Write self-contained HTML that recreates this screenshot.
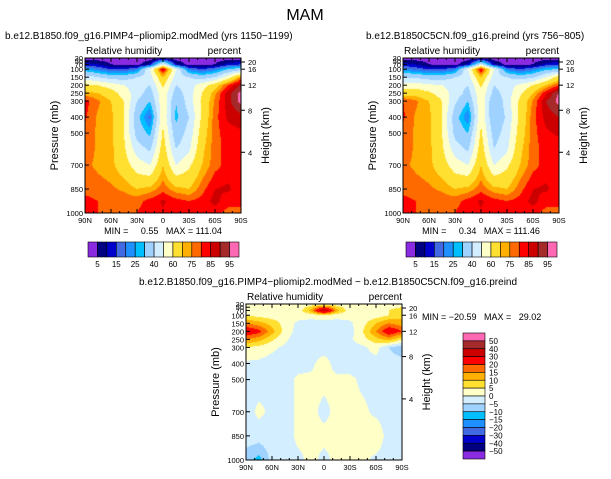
<!DOCTYPE html>
<html><head><meta charset="utf-8">
<style>
body{margin:0;background:#fff;}
#wrap{position:relative;width:611px;height:479px;overflow:hidden;font-family:"Liberation Sans",sans-serif;}
canvas{position:absolute;}
svg{position:absolute;left:0;top:0;}
svg text{white-space:pre;}
</style></head>
<body>
<div id="wrap">
<canvas id="c1"></canvas>
<canvas id="c2"></canvas>
<canvas id="c3"></canvas>
<svg id="s" width="611" height="479"></svg>
</div>
<script>
// ---- data ----
const lats = [90,75,60,45,30,15,0,-15,-30,-45,-60,-75,-90];
const presTop = [30,70,100,150,200,250,300,400,500,600,700,850,925,1000];
const rhPlio = [
 [2,2,2,2,2,2,2,2,2,2,2,2,2],
 [12,10,5,3,3,10,50,10,3,3,5,12,15],
 [25,20,15,15,20,50,88,50,20,15,20,30,35],
 [45,40,35,35,40,45,70,45,40,35,40,55,75],
 [62,60,55,50,45,40,62,40,45,55,65,80,92],
 [72,70,65,55,45,35,58,35,45,60,74,88,97],
 [82,76,70,60,40,30,58,30,45,62,76,88,97],
 [81,74,72,60,33,18,58,28,40,62,78,86,88],
 [78,74,72,60,36,28,62,33,44,65,78,83,84],
 [78,74,72,62,45,38,66,40,48,68,78,82,82],
 [76,74,72,65,55,50,70,50,58,70,78,82,82],
 [78,77,76,74,70,72,78,72,70,78,85,86,82],
 [82,80,79,78,78,82,86,82,80,82,87,82,82],
 [83,80,78,78,80,84,84,84,82,82,82,78,78]];
const rhPre = [
 [2,2,2,2,2,2,2,2,2,2,2,2,2],
 [12,10,5,3,3,10,45,10,3,3,5,12,15],
 [22,18,15,15,20,50,86,50,20,15,20,28,30],
 [40,38,35,35,40,45,70,45,40,35,38,50,65],
 [55,55,52,50,45,40,62,40,45,52,60,70,80],
 [66,66,62,55,46,36,58,36,45,58,70,84,96],
 [80,76,70,60,42,30,58,30,45,62,76,90,97],
 [81,74,72,60,34,20,58,30,42,63,78,87,90],
 [78,74,72,60,37,30,62,35,45,65,78,84,86],
 [78,74,72,62,45,38,66,40,48,68,78,82,82],
 [76,74,72,65,55,50,70,50,58,70,78,82,82],
 [78,77,76,74,70,72,78,72,70,78,85,86,82],
 [82,80,79,78,78,82,86,82,80,82,87,82,82],
 [83,80,78,78,80,84,84,84,82,82,82,78,78]];
const presDiff = [30,70,100,150,200,250,300,400,500,700,850,1000];
const rhDiff = [
 [2,2,2,2,2,2,2,2,2,2,2,2,2],
 [3,2,2,2,2,12,38,12,2,2,2,5,8],
 [5,3,2,2,2,2,3,2,2,2,2,5,8],
 [15,12,8,3,-1,-2,-2,-2,-1,3,10,15,12],
 [26,22,12,3,-2,-3,-3,-3,-2,5,15,26,20],
 [15,12,6,1,-3,-2,-2,-2,-1,3,8,12,5],
 [5,3,1,-1,-2,-2,-2,-2,-2,-1,2,-5,-8],
 [-1,-1,-2,-2,-2,-1,2,-2,-2,-2,-2,-3,-3],
 [-2,-2,-2,-2,1,1,1,1,1,-1,-2,-2,-3],
 [-2,1,-1,-2,1,1,-1,1,1,1,-1,-2,-5],
 [-2,-2,-2,-2,1,1,1,1,1,1,3,-2,-5],
 [-8,-12,-3,-2,-1,1,-1,1,1,1,-1,-2,-5]];
const levelsRH = [5,10,15,20,25,30,40,50,60,70,75,80,85,90,95];
const levelsDiff = [-50,-40,-30,-20,-15,-10,-5,0,5,10,15,20,30,40,50];
const palette = ["#8a2be2","#000080","#0000cd","#4169e1","#1e90ff","#00bfff","#a0d2ff","#d2eeff","#ffffc8","#ffe030","#ffb000","#ff6a00","#ff0000","#cd0000","#a52a2a","#ff69b4"];
const latTicks = ["90N","60N","30N","0","30S","60S","90S"];
const presTicks = [30,50,70,100,150,200,250,300,400,500,700,850,1000];
const presTickLabels = ["30","50","70","100","150","200","250","300","400","500","700","850","1000"];
const hgtTicks = [[20,55],[16,100],[12,200],[8,357],[4,620]];
const cbLabelsRH = ["5","15","25","40","60","75","85","95"];
const cbLabelsDiff = ["50","40","30","20","15","10","5","0","\u22125","\u221210","\u221215","\u221220","\u221230","\u221240","\u221250"];

// ---- helpers ----
function interp(grid, pres, lat, p){
  let fi=(90-lat)/15; let i=Math.min(Math.floor(fi),lats.length-2); let ti=fi-i;
  let j=0; while(j<pres.length-2 && p>pres[j+1]) j++;
  let tj=(p-pres[j])/(pres[j+1]-pres[j]); tj=Math.max(0,Math.min(1,tj));
  const a=grid[j][i]*(1-ti)+grid[j][i+1]*ti, b=grid[j+1][i]*(1-ti)+grid[j+1][i+1]*ti;
  return a*(1-tj)+b*tj;
}
function colorIdx(v,levels){let k=0;while(k<levels.length&&v>=levels[k])k++;return k;}
function drawField(id,P,grid,pres,levels){
  const c=document.getElementById(id); c.width=P.w; c.height=P.h;
  c.style.left=P.x+'px'; c.style.top=P.y+'px';
  const ctx=c.getContext('2d');
  for(let x=0;x<P.w;x++){ const lat=90-(x+0.5)/P.w*180;
    for(let y=0;y<P.h;y++){ const p=30+(y+0.5)/P.h*970;
      ctx.fillStyle=palette[colorIdx(interp(grid,pres,lat,p),levels)]; ctx.fillRect(x,y,1,1);}}
}
const S=document.getElementById('s'); const NS="http://www.w3.org/2000/svg";
function el(tag,attrs,txt){const e=document.createElementNS(NS,tag);for(const k in attrs)e.setAttribute(k,attrs[k]);if(txt!==undefined)e.textContent=txt;S.appendChild(e);return e;}
function text(x,y,s,size,anchor,name){const t=el('text',{x:x,y:y,'font-size':size,'text-anchor':anchor||'start','font-family':'Liberation Sans, sans-serif'},s);
 
 return t;}
function axes(P,tag){
  const yOf=p=>P.y+(p-30)/970*P.h;
  const r=el('rect',{x:P.x,y:P.y,width:P.w,height:P.h,fill:'none',stroke:'#000','stroke-width':1});
  
  
  latTicks.forEach((l,i)=>{const x=P.x+i*P.w/6;
    el('line',{x1:x,y1:P.y+P.h,x2:x,y2:P.y+P.h-4,stroke:'#000'});el('line',{x1:x,y1:P.y,x2:x,y2:P.y+4,stroke:'#000'});
    text(x,P.y+P.h+10,l,7.5,'middle',tag+'-x-tick-label');});
  for(let i=0;i<18;i++){const x=P.x+i*P.w/18;el('line',{x1:x,y1:P.y+P.h,x2:x,y2:P.y+P.h-2,stroke:'#000'});el('line',{x1:x,y1:P.y,x2:x,y2:P.y+2,stroke:'#000'});}
  presTicks.forEach((p,i)=>{const y=yOf(p);el('line',{x1:P.x,y1:y,x2:P.x+4,y2:y,stroke:'#000'});
    text(P.x-2,y+3,presTickLabels[i],7.5,'end',tag+'-y-tick-label');});
  hgtTicks.forEach(h=>{const y=yOf(h[1]);el('line',{x1:P.x+P.w,y1:y,x2:P.x+P.w+4,y2:y,stroke:'#000'});
    text(P.x+P.w+7,y+3,String(h[0]),7.5,'start',tag+'-height-tick-label');});
  const yl=text(0,0,'Pressure (mb)',11,'middle',tag+'-y-axis-title');yl.setAttribute('transform',`translate(${P.x-27},${P.y+P.h/2}) rotate(-90)`);
  const hl=text(0,0,'Height (km)',11,'middle',tag+'-height-axis-title');hl.setAttribute('transform',`translate(${P.x+P.w+28},${P.y+P.h/2}) rotate(-90)`);
  text(P.x+1,P.y-4,'Relative humidity',10,'start',tag+'-variable-label');
  text(P.x+P.w,P.y-4,'percent',10,'end',tag+'-units-label');
}
function hbar(x0,y0,w,h,tag){
  const bw=w/16;
  for(let i=0;i<16;i++){const r=el('rect',{x:x0+i*bw,y:y0,width:bw,height:h,fill:palette[i],stroke:'#000','stroke-width':0.6});
    
    }
  cbLabelsRH.forEach((l,i)=>text(x0+(2*i+1)*bw,y0+h+10,l,8,'middle',tag+'-colorbar-label'));
}
const P1={x:85,y:58,w:156,h:155}, P2={x:403,y:58,w:156,h:155}, P3={x:246,y:304,w:156,h:156};
drawField('c1',P1,rhPlio,presTop,levelsRH);
drawField('c2',P2,rhPre,presTop,levelsRH);
drawField('c3',P3,rhDiff,presDiff,levelsDiff);
text(305,20,'MAM',16,'middle','figure-title');
text(5,39,'b.e12.B1850.f09_g16.PIMP4\u2212pliomip2.modMed (yrs 1150\u22121199)',10,'start','left-panel-title');
text(366,39,'b.e12.B1850C5CN.f09_g16.preind (yrs 756\u2212805)',10,'start','right-panel-title');
text(139,285,'b.e12.B1850.f09_g16.PIMP4\u2212pliomip2.modMed \u2212 b.e12.B1850C5CN.f09_g16.preind',10,'start','diff-panel-title');
axes(P1,'left');axes(P2,'right');axes(P3,'diff');
text(163,234,'MIN =     0.55   MAX = 111.04',9,'middle','left-min-max');
text(481,234,'MIN =     0.34   MAX = 111.46',9,'middle','right-min-max');
text(422,320,'MIN = \u221220.59   MAX =   29.02',9,'start','diff-min-max');
hbar(88,242,151,15,'left');hbar(406,242,151,15,'right');
// vertical diff colorbar
(function(){const x0=463,y0=333,w=22,bh=126/16;
 for(let i=0;i<16;i++){const r=el('rect',{x:x0,y:y0+i*bh,width:w,height:bh,fill:palette[15-i],stroke:'#000','stroke-width':0.6});
   
   }
 cbLabelsDiff.forEach((l,i)=>text(x0+w+4,y0+(i+1)*bh+3,l,8,'start','diff-colorbar-label'));})();
</script>
</body></html>
